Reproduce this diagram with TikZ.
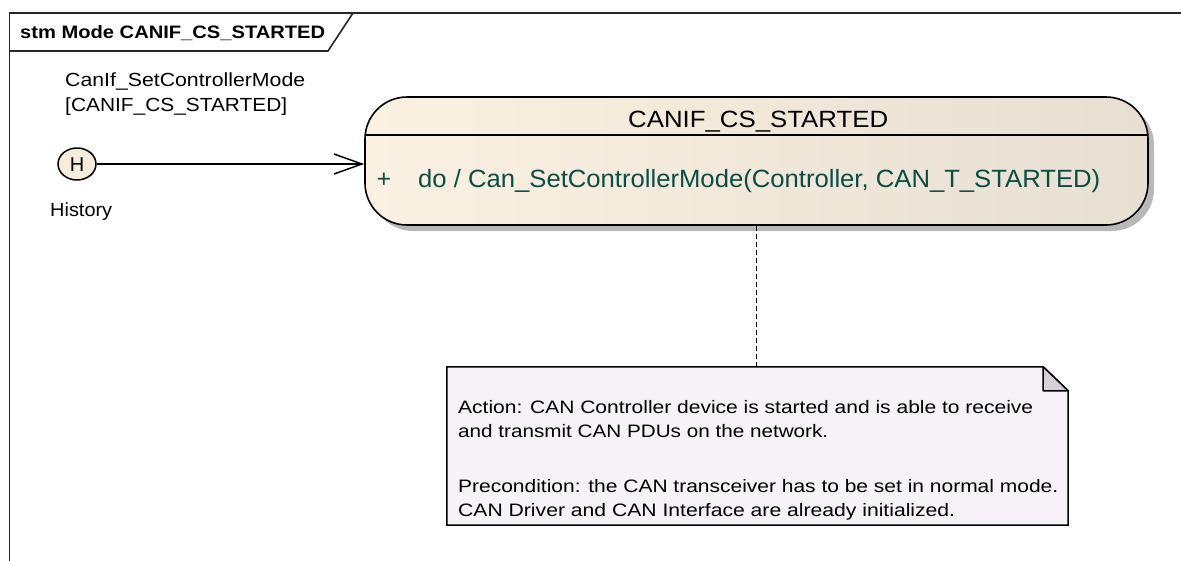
\documentclass[tikz,border=0pt]{standalone}
\usepackage{fontspec}
\setmainfont{Liberation Sans}
\usetikzlibrary{arrows.meta,shadows,shapes.geometric}
\definecolor{stateL}{RGB}{251,241,226}
\definecolor{stateR}{RGB}{231,223,210}
\definecolor{tealtext}{RGB}{12,77,70}
\definecolor{notefill}{RGB}{246,242,247}
\definecolor{foldfill}{RGB}{212,208,214}
\definecolor{histfill}{RGB}{246,236,220}
\newcommand{\fitw}[2]{\resizebox{#1pt}{\height}{#2}}
\tikzset{
  txt/.style={inner sep=0pt, anchor=base west},
  framelinestyle/.style={line width=1.6pt, draw=black!85},
  statebox/.style={draw=black, line width=1.6pt, rounded corners=42pt,
    minimum width=783pt, minimum height=128pt, left color=stateL, right color=stateR,
    drop shadow={shadow xshift=6pt, shadow yshift=-6pt, fill=black!28, opacity=1}},
  histnode/.style={draw=black, line width=1.5pt, ellipse, fill=histfill,
    minimum width=38pt, minimum height=32pt, inner sep=0pt},
  notebox/.style={draw=none, minimum width=621pt, minimum height=158pt, inner sep=0pt},
  transline/.style={line width=1.5pt, -{Straight Barb[length=28pt,width=20pt,line width=1.5pt]}},
  anchorline/.style={line width=1.6pt, dash pattern=on 5pt off 3pt},
}
\begin{document}
\begin{tikzpicture}[x=1pt,y=-1pt]
\useasboundingbox (0,0) rectangle (1181,560);
% frame
\draw[framelinestyle] (9.5,575) -- (9.5,13) -- (1195,13);
\draw[framelinestyle] (9.5,51) -- (328,51) -- (353,13);
\node[txt] (title) at (20,38) {\fitw{305}{\fontsize{18}{20}\selectfont\bfseries stm Mode CANIF\_CS\_STARTED}};
% history
\node[histnode] (hist) at (77,164) {};
\node[inner sep=0pt, anchor=base] (hlabel) at (77,171.5) {\fontsize{20}{22}\selectfont H};
\node[txt] (histtxt) at (50,216) {\fitw{62}{\fontsize{19}{21}\selectfont History}};
% guard text
\node[txt] (guard1) at (65,86) {\fitw{240}{\fontsize{19}{21}\selectfont CanIf\_SetControllerMode}};
\node[txt] (guard2) at (65,111) {\fitw{222}{\fontsize{19}{21}\selectfont [CANIF\_CS\_STARTED]}};
% state
\node[statebox] (state) at (756.5,161) {};
\draw[line width=1.5pt] (365,135) -- (1148,135);
\node[txt] (stitle) at (628,127) {\fitw{260}{\fontsize{23.5}{26}\selectfont CANIF\_CS\_STARTED}};
\node[inner sep=0pt, anchor=base, text=tealtext] (plus) at (384,187) {\fontsize{25}{27}\selectfont +};
\node[txt, text=tealtext] (doact) at (418,187) {\fitw{682}{\fontsize{25}{27}\selectfont do / Can\_SetControllerMode(Controller, CAN\_T\_STARTED)}};
% transition
\draw[transline] (hist.east) -- (state.west |- hist.east);
% note
\node[notebox] (note) at (757.5,446) {};
\coordinate (fold1) at ([xshift=-25pt]note.north east);
\coordinate (fold2) at ([yshift=-24pt]note.north east);
\coordinate (fold3) at ([xshift=-25pt,yshift=-24pt]note.north east);
\draw[line width=1.5pt, fill=notefill] (note.north west) -- (fold1) -- (fold2) -- (note.south east) -- (note.south west) -- cycle;
\draw[line width=1.5pt, fill=foldfill, line join=round] (fold1) -- (fold3) -- (fold2) -- cycle;
\draw[anchorline] (state.south) -- (state.south |- note.north);
\node[txt] (n1) at (458,413) {\fitw{575}{\fontsize{18}{20}\selectfont Action: CAN Controller device is started and is able to receive}};
\node[txt] (n2) at (458,437) {\fitw{370}{\fontsize{18}{20}\selectfont and transmit CAN PDUs on the network.}};
\node[txt] (n3) at (458,492) {\fitw{600}{\fontsize{18}{20}\selectfont Precondition: the CAN transceiver has to be set in normal mode.}};
\node[txt] (n4) at (458,516) {\fitw{497}{\fontsize{18}{20}\selectfont CAN Driver and CAN Interface are already initialized.}};
\end{tikzpicture}
\end{document}
